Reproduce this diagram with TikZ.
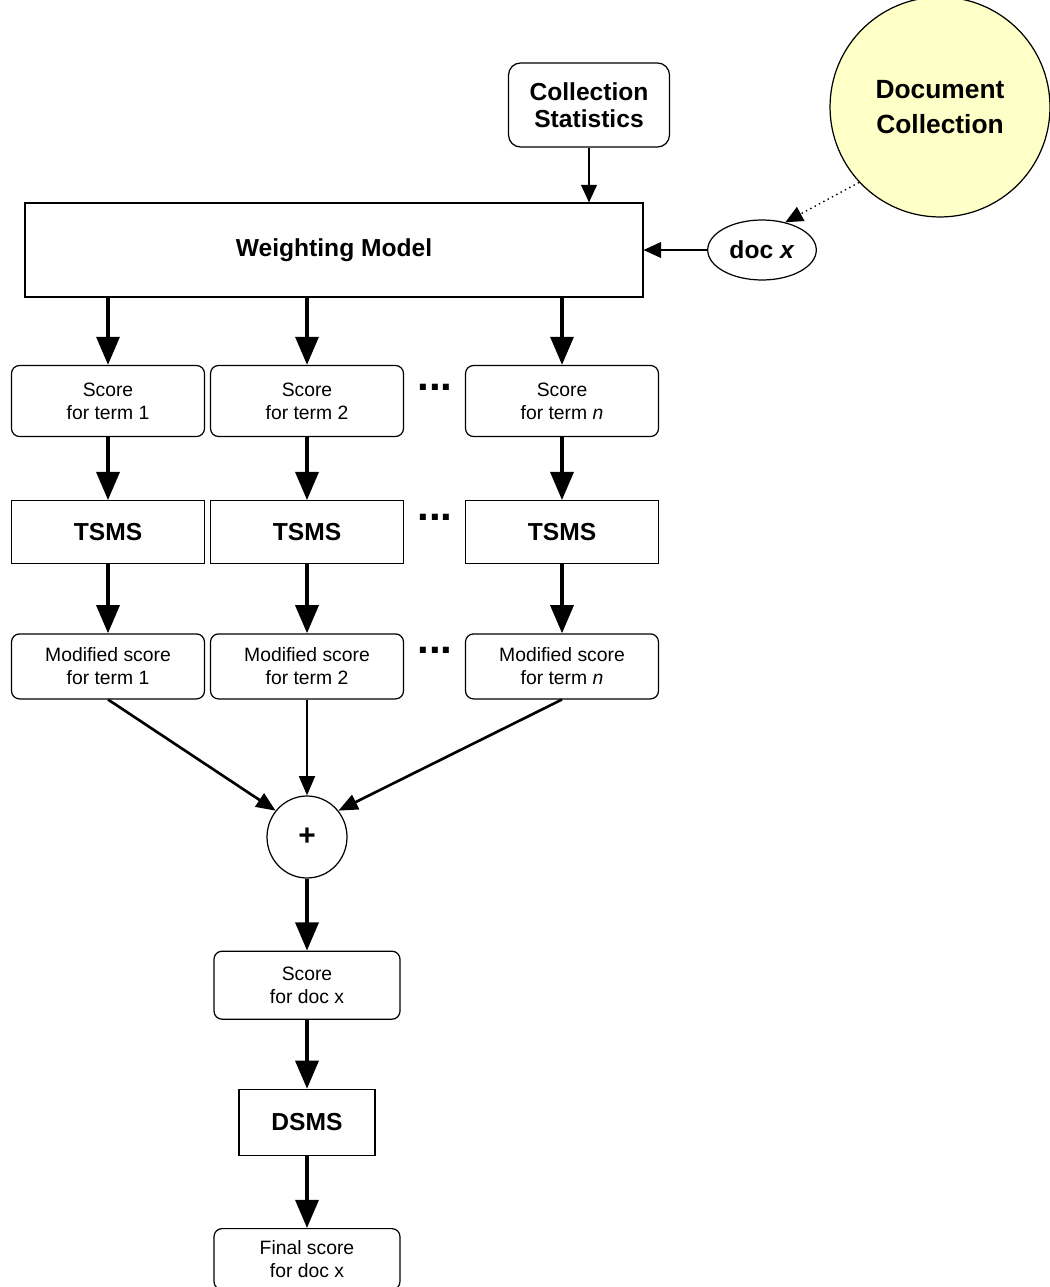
\documentclass[tikz,border=0pt]{standalone}
\usepackage{fontspec}
\setmainfont{Liberation Sans}
\usetikzlibrary{arrows.meta,positioning,shapes.geometric}
\definecolor{dcfill}{HTML}{FFFFC8}
\newcommand{\bigtxt}{\fontsize{14}{15.5}\selectfont\bfseries}
\newcommand{\smalltxt}{\fontsize{11}{13}\selectfont}
\tikzset{
  sbox/.style={draw,line width=0.7pt,rounded corners=1.6mm,align=center,minimum width=3.86cm,font=\smalltxt},
  tbox/.style={draw,line width=0.7pt,align=center,minimum width=3.86cm,font=\bigtxt},
  far/.style={-{Triangle[length=16pt,width=13pt]},line width=2.2pt},
  mar/.style={-{Triangle[length=11pt,width=9pt]},line width=1.5pt},
  tar/.style={-{Triangle[length=10pt,width=9pt]},line width=0.8pt},
  dots/.style={font=\fontsize{24}{24}\selectfont\bfseries,inner sep=0pt},
}
\begin{document}
\begin{tikzpicture}[x=0.02cm,y=-0.02cm]
  \useasboundingbox (0,0) rectangle (1049,1287);
  \node[circle,draw,line width=0.7pt,fill=dcfill,minimum size=4.4cm,align=center,font=\fontsize{15}{20}\selectfont\bfseries] (dc) at (940,107) {Document\\Collection};
  \node[draw,line width=0.7pt,rounded corners=2.4mm,align=center,minimum width=3.22cm,minimum height=1.68cm,font=\bigtxt] (cs) at (589,105) {Collection\\Statistics};
  \node[tbox,minimum width=12.36cm,minimum height=1.88cm] (wm) at (334,250) {Weighting Model};
  \node[ellipse,draw,line width=0.7pt,minimum width=2.1cm,minimum height=1.2cm,font=\bigtxt] (dx) at (762,250) {doc \textit{x}};
  \foreach \c/\x/\t in {1/108/1,2/307/2,n/562/\textit{n}} {
    \node[sbox,minimum height=1.42cm] (sc\c) at (\x,401) {Score\\for term \t};
    \node[tbox,minimum height=1.26cm,below=1.26cm of sc\c] (ts\c) {TSMS};
    \node[sbox,minimum height=1.3cm,below=1.38cm of ts\c] (ms\c) {Modified score\\for term \t};
    \draw[far] (wm.south -| sc\c.north) -- (sc\c.north);
    \draw[far] (sc\c) -- (ts\c);
    \draw[far] (ts\c) -- (ms\c);
  }
  \node[dots] (dt1) at (435,387) {...};
  \node[dots] (dt2) at (435,517) {...};
  \node[dots] (dt3) at (435,650) {...};
  \node[ellipse,draw,line width=0.7pt,minimum width=1.6cm,minimum height=1.64cm,font=\fontsize{17}{17}\selectfont\bfseries] (pl) at (307,837) {+};
  \node[sbox,minimum width=3.72cm,minimum height=1.36cm,below=1.44cm of pl] (sd) {Score\\for doc x};
  \node[tbox,minimum width=2.72cm,minimum height=1.32cm,below=1.38cm of sd] (ds) {DSMS};
  \node[sbox,minimum width=3.72cm,minimum height=1.22cm,below=1.44cm of ds] (fs) {Final score\\for doc x};
  \draw[tar] (cs.south) -- (cs.south |- wm.north);
  \draw[tar] (dx.west) -- (wm.east);
  \draw[tar,dotted] (dc.223) -- (dx.50);
  \draw[mar] (ms1.south) -- (pl.140);
  \draw[mar] (ms2) -- (pl);
  \draw[mar] (msn.south) -- (pl.40);
  \draw[far] (pl) -- (sd);
  \draw[far] (sd) -- (ds);
  \draw[far] (ds) -- (fs);
\end{tikzpicture}
\end{document}
